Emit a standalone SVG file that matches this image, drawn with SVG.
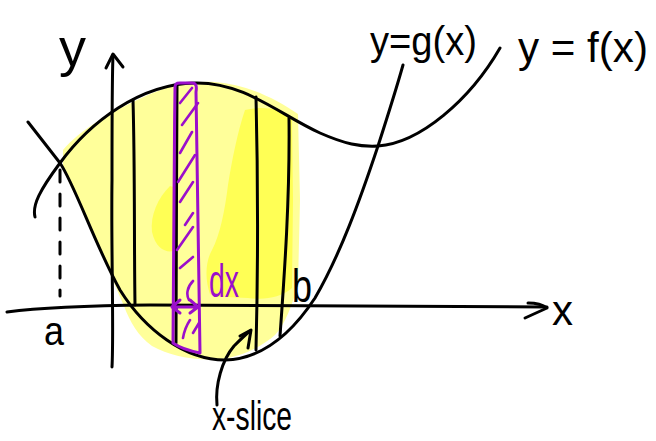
<svg xmlns="http://www.w3.org/2000/svg" width="656" height="441" viewBox="0 0 656 441">
<style>
.ink{fill:none;stroke:#000;stroke-width:3;stroke-linecap:round;stroke-linejoin:round}
.pur{fill:none;stroke:#9B0FCB;stroke-width:3;stroke-linecap:round;stroke-linejoin:round}
.hat{fill:none;stroke:#9B0FCB;stroke-width:2.6;stroke-linecap:round}
.lbl{font-family:"Liberation Sans",Arial,sans-serif;fill:#000}
.plbl{font-family:"Liberation Sans",Arial,sans-serif;fill:#9B0FCB}
.hl1{fill:#FFFF9A;stroke:none}
.hl2{fill:#FFFF55;stroke:none}
</style>
<rect width="656" height="441" fill="#fff"/>
<g id="highlight">
<path class="hl1" d="M63,150 C80,130 110,112 150,94 C175,84 195,81 215,82 C245,84 275,98 298,114 L300,200 L298,285 C292,305 285,325 275,335 C260,348 240,357 220,359 C195,361 170,356 152,346 C138,336 130,322 124,306 C115,285 100,250 88,222 C78,200 68,182 63,168 Z"/>
<path class="hl2" d="M245,110 C262,106 280,108 292,118 L293,200 L292,288 C280,298 265,300 248,298 C232,297 218,298 210,294 C205,280 205,262 212,250 C220,235 225,210 228,185 C232,160 238,130 245,110 Z"/>
<path class="hl2" d="M152,232 C150,215 158,198 170,186 L176,188 L176,250 C168,254 156,250 152,232 Z"/>
</g>
<g id="dashed-a">
<path class="ink" d="M60,170 L60,296" stroke-dasharray="12 12"/>
</g>
<g id="slices">
<path class="ink" d="M133,100 C135,170 134,240 135,305"/>
<path class="ink" d="M177,85 C176,170 177,260 176,343"/>
<path class="ink" d="M256,97 C258,180 258,270 256,350"/>
<path class="ink" d="M289,118 C290,200 284,280 280,336"/>
</g>
<g id="curve-f">
<path class="ink" d="M35,217 C32,205 40,190 60,163 C90,122 140,84 195,83 C245,82 280,115 320,133 C345,144 360,147 378,146 C420,143 470,100 500,48"/>
</g>
<g id="curve-g">
<path class="ink" d="M28,122 L60,163 C75,185 95,245 120,290 C145,330 185,360 225,360 C260,359 290,336 315,298 C340,255 360,200 378,146 C388,115 396,90 403,65"/>
</g>
<g id="axis-x">
<path class="ink" d="M7,312 C30,309 60,306 150,305 L547,307"/>
<path class="ink" d="M528,303 C537,303 543,305 547,308 L525,318"/>
</g>
<g id="axis-y">
<path class="ink" d="M112,367 C114,330 111,250 112,180 C112,120 112,80 113,55"/>
<path class="ink" d="M106,68 L113,54 L123,67"/>
</g>
<g id="strip">
<path class="pur" d="M175,88 C175,84 176,83 180,83 L192,83 C196,83 197,86 196,92 C197,150 198,250 200,353 C190,351 180,348 173,343 C173,250 174,170 175,88 Z"/>
<path class="hat" d="M180,103 L192,88 M182,125 L198,103 M180,153 L192,132 M178,182 L195,155 M180,202 L193,182 M185,225 L193,213 M177,250 L193,227 M180,268 L193,257 M193,281 C187,287 186,295 189,300 M190,320 C186,326 184,332 183,338 M193,333 L199,323"/>
<path class="pur" d="M172,307 L198,307 M180,300 L172,307 L180,313 M190,300 L198,307 L190,313"/>
</g>
<g id="connectors">
<path class="ink" d="M217,405 C215,385 222,360 234,346 C240,340 245,335 250,331"/>
<path class="ink" d="M240,336 L251,330 L248,348"/>
</g>
<g id="labels">
<text class="lbl" x="59" y="66" font-size="54">y</text>
<text class="lbl" x="44" y="345" font-size="40" textLength="20" lengthAdjust="spacingAndGlyphs">a</text>
<text class="lbl" x="292" y="302" font-size="46" textLength="20" lengthAdjust="spacingAndGlyphs">b</text>
<text class="lbl" x="552" y="325" font-size="42">x</text>
<text class="plbl" x="209" y="297" font-size="46" textLength="30" lengthAdjust="spacingAndGlyphs">dx</text>
<text class="lbl" x="212" y="430" font-size="40" textLength="80" lengthAdjust="spacingAndGlyphs">x-slice</text>
<text class="lbl" x="370" y="55" font-size="40" textLength="107" lengthAdjust="spacingAndGlyphs">y=g(x)</text>
<text class="lbl" x="518" y="62" font-size="42" textLength="130" lengthAdjust="spacingAndGlyphs">y = f(x)</text>
</g>
</svg>
